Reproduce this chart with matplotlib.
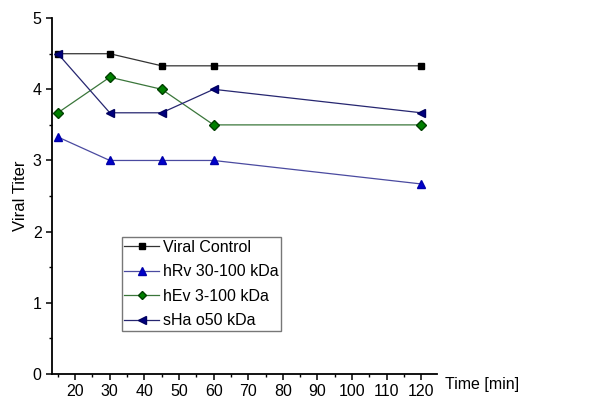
import matplotlib.pyplot as plt
from matplotlib.ticker import MultipleLocator

plt.rcParams['font.family'] = ['Liberation Sans', 'DejaVu Sans']

time_min = [15, 30, 45, 60, 120]
viral_control = [4.5, 4.5, 4.33, 4.33, 4.33]
hrv = [3.33, 3.0, 3.0, 3.0, 2.67]
hev = [3.67, 4.17, 4.0, 3.5, 3.5]
sha = [4.5, 3.67, 3.67, 4.0, 3.67]
labels = ['Viral Control', 'hRv 30-100 kDa', 'hEv 3-100 kDa', 'sHa o50 kDa']

fig = plt.figure(figsize=(6.01, 4.03), dpi=100)
ax = fig.add_axes([0.0865, 0.072, 0.641, 0.883])

ax.plot(time_min, viral_control, color='#333333', linewidth=0.9, marker='s',
        markersize=5, markerfacecolor='black', markeredgecolor='black', label=labels[0])
ax.plot(time_min, hrv, color='#4a4aa0', linewidth=0.9, marker='^',
        markersize=6, markerfacecolor='#0000cc', markeredgecolor='#0000aa', label=labels[1])
ax.plot(time_min, hev, color='#3a763a', linewidth=0.9, marker='D',
        markersize=5, markerfacecolor='#008000', markeredgecolor='#004000', label=labels[2])
ax.plot(time_min, sha, color='#262670', linewidth=0.9, marker='<',
        markersize=6, markerfacecolor='#000080', markeredgecolor='#000060', label=labels[3])

ax.set_xlim(13.3, 124.6)
ax.set_ylim(0, 5)
ax.xaxis.set_major_locator(MultipleLocator(10))
ax.xaxis.set_minor_locator(MultipleLocator(5))
ax.yaxis.set_major_locator(MultipleLocator(1))
ax.yaxis.set_minor_locator(MultipleLocator(0.5))

ax.spines['top'].set_visible(False)
ax.spines['right'].set_visible(False)
ax.spines['left'].set_linewidth(1.3)
ax.spines['bottom'].set_linewidth(1.3)
ax.tick_params(which='major', direction='out', length=4, width=1.1, labelsize=11.5)
ax.tick_params(which='minor', direction='out', length=2.5, width=1.0)

ax.set_ylabel('Viral Titer', fontsize=12, labelpad=3)
fig.text(0.74, 0.047, 'Time [min]', fontsize=11.5, ha='left', va='center')

leg = ax.legend(loc='upper left', bbox_to_anchor=(0.181, 0.384), fontsize=11.5,
                frameon=True, fancybox=False, handlelength=2.2, handletextpad=0.25,
                borderpad=0.15, labelspacing=0.6, borderaxespad=0, markerscale=0.85)
leg.get_frame().set_edgecolor('#555555')
leg.get_frame().set_linewidth(1.0)

plt.savefig('out.png', dpi=100)
